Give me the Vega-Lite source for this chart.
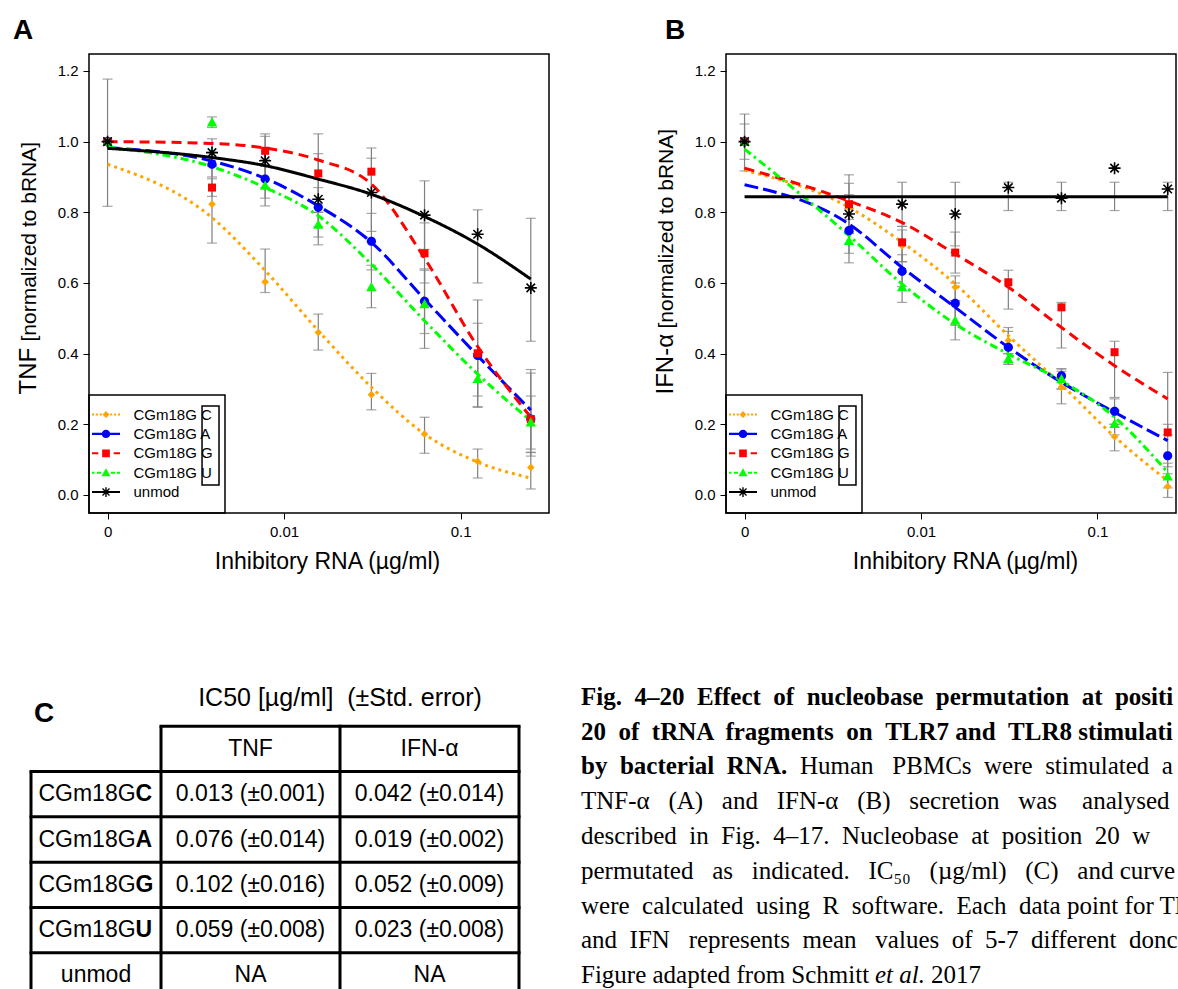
{
  "$schema": "https://vega.github.io/schema/vega-lite/v6.json",
  "padding": {"left": 12, "top": 16, "right": 0, "bottom": 0},
  "background": "white",
  "config": {
    "font": "Liberation Sans",
    "view": {"stroke": "black", "strokeWidth": 1.5},
    "axis": {"labelFont": "Liberation Sans", "titleFont": "Liberation Sans", "labelColor": "black", "titleColor": "black", "tickColor": "black", "tickWidth": 1, "grid": false, "domain": false, "titleFontWeight": "normal", "labelFontSize": 15},
    "legend": {"orient": "bottom-left", "offset": 0, "padding": 12, "strokeColor": "black", "symbolSize": 49, "symbolOffset": -2.5, "labelOffset": 20, "rowPadding": 3.4, "labelFontSize": 15, "labelFont": "Liberation Sans", "labelColor": "black", "symbolOpacity": 1},
    "title": {"font": "Liberation Sans", "color": "black"}
  },
  "datasets": {
    "pointsA": [
      {"series": "unmod", "conc": 0, "val": 1.0, "lo": 0.817, "hi": 1.177},
      {"series": "unmod", "conc": 0.00390625, "val": 0.969, "lo": 0.93, "hi": 1.008},
      {"series": "unmod", "conc": 0.0078125, "val": 0.946, "lo": 0.87, "hi": 1.022},
      {"series": "unmod", "conc": 0.015625, "val": 0.837, "lo": 0.708, "hi": 0.966},
      {"series": "unmod", "conc": 0.03125, "val": 0.856, "lo": 0.746, "hi": 0.953},
      {"series": "unmod", "conc": 0.0625, "val": 0.792, "lo": 0.695, "hi": 0.889},
      {"series": "unmod", "conc": 0.125, "val": 0.738, "lo": 0.6, "hi": 0.807},
      {"series": "unmod", "conc": 0.25, "val": 0.586, "lo": 0.435, "hi": 0.783},
      {"series": "CGm18GC", "conc": 0, "val": 1.0, "lo": null, "hi": null},
      {"series": "CGm18GC", "conc": 0.00390625, "val": 0.823, "lo": 0.713, "hi": 0.933},
      {"series": "CGm18GC", "conc": 0.0078125, "val": 0.603, "lo": 0.573, "hi": 0.696},
      {"series": "CGm18GC", "conc": 0.015625, "val": 0.46, "lo": 0.41, "hi": 0.512},
      {"series": "CGm18GC", "conc": 0.03125, "val": 0.284, "lo": 0.241, "hi": 0.344},
      {"series": "CGm18GC", "conc": 0.0625, "val": 0.1725, "lo": 0.118, "hi": 0.22},
      {"series": "CGm18GC", "conc": 0.125, "val": 0.095, "lo": 0.048, "hi": 0.13},
      {"series": "CGm18GC", "conc": 0.25, "val": 0.078, "lo": 0.017, "hi": 0.121},
      {"series": "CGm18GA", "conc": 0, "val": 1.0, "lo": null, "hi": null},
      {"series": "CGm18GA", "conc": 0.00390625, "val": 0.936, "lo": 0.9, "hi": 0.97},
      {"series": "CGm18GA", "conc": 0.0078125, "val": 0.894, "lo": 0.84, "hi": 0.95},
      {"series": "CGm18GA", "conc": 0.015625, "val": 0.814, "lo": 0.76, "hi": 0.87},
      {"series": "CGm18GA", "conc": 0.03125, "val": 0.718, "lo": 0.637, "hi": 0.797},
      {"series": "CGm18GA", "conc": 0.0625, "val": 0.548, "lo": 0.457, "hi": 0.636},
      {"series": "CGm18GA", "conc": 0.125, "val": 0.395, "lo": 0.28, "hi": 0.486},
      {"series": "CGm18GA", "conc": 0.25, "val": 0.215, "lo": 0.13, "hi": 0.345},
      {"series": "CGm18GG", "conc": 0, "val": 1.0, "lo": null, "hi": null},
      {"series": "CGm18GG", "conc": 0.00390625, "val": 0.87, "lo": 0.845, "hi": 0.895},
      {"series": "CGm18GG", "conc": 0.0078125, "val": 0.974, "lo": 0.934, "hi": 1.015},
      {"series": "CGm18GG", "conc": 0.015625, "val": 0.91, "lo": 0.8, "hi": 1.022},
      {"series": "CGm18GG", "conc": 0.03125, "val": 0.915, "lo": 0.85, "hi": 0.982},
      {"series": "CGm18GG", "conc": 0.0625, "val": 0.684, "lo": 0.6, "hi": 0.77},
      {"series": "CGm18GG", "conc": 0.125, "val": 0.401, "lo": 0.25, "hi": 0.552},
      {"series": "CGm18GG", "conc": 0.25, "val": 0.215, "lo": 0.12, "hi": 0.355},
      {"series": "CGm18GU", "conc": 0, "val": 1.0, "lo": null, "hi": null},
      {"series": "CGm18GU", "conc": 0.00390625, "val": 1.054, "lo": 1.04, "hi": 1.07},
      {"series": "CGm18GU", "conc": 0.0078125, "val": 0.875, "lo": 0.818, "hi": 0.93},
      {"series": "CGm18GU", "conc": 0.015625, "val": 0.765, "lo": 0.73, "hi": 0.8},
      {"series": "CGm18GU", "conc": 0.03125, "val": 0.588, "lo": 0.53, "hi": 0.65},
      {"series": "CGm18GU", "conc": 0.0625, "val": 0.54, "lo": 0.415, "hi": 0.64},
      {"series": "CGm18GU", "conc": 0.125, "val": 0.328, "lo": 0.248, "hi": 0.4},
      {"series": "CGm18GU", "conc": 0.25, "val": 0.205, "lo": 0.11, "hi": 0.28}
    ],
    "curvesA": [
      {"series": "CGm18GC", "conc": 0, "fit": 0.936},
      {"series": "CGm18GC", "conc": 0.00390625, "fit": 0.785},
      {"series": "CGm18GC", "conc": 0.0078125, "fit": 0.635},
      {"series": "CGm18GC", "conc": 0.015625, "fit": 0.465},
      {"series": "CGm18GC", "conc": 0.03125, "fit": 0.305},
      {"series": "CGm18GC", "conc": 0.0625, "fit": 0.1725},
      {"series": "CGm18GC", "conc": 0.125, "fit": 0.093},
      {"series": "CGm18GC", "conc": 0.25, "fit": 0.048},
      {"series": "CGm18GA", "conc": 0, "fit": 0.983},
      {"series": "CGm18GA", "conc": 0.00390625, "fit": 0.945},
      {"series": "CGm18GA", "conc": 0.0078125, "fit": 0.896},
      {"series": "CGm18GA", "conc": 0.015625, "fit": 0.818},
      {"series": "CGm18GA", "conc": 0.03125, "fit": 0.715},
      {"series": "CGm18GA", "conc": 0.0625, "fit": 0.554},
      {"series": "CGm18GA", "conc": 0.125, "fit": 0.394},
      {"series": "CGm18GA", "conc": 0.25, "fit": 0.24},
      {"series": "CGm18GG", "conc": 0, "fit": 1.0},
      {"series": "CGm18GG", "conc": 0.00390625, "fit": 0.995},
      {"series": "CGm18GG", "conc": 0.0078125, "fit": 0.982},
      {"series": "CGm18GG", "conc": 0.015625, "fit": 0.948},
      {"series": "CGm18GG", "conc": 0.03125, "fit": 0.88},
      {"series": "CGm18GG", "conc": 0.0625, "fit": 0.67},
      {"series": "CGm18GG", "conc": 0.125, "fit": 0.42},
      {"series": "CGm18GG", "conc": 0.25, "fit": 0.22},
      {"series": "CGm18GU", "conc": 0, "fit": 0.985},
      {"series": "CGm18GU", "conc": 0.00390625, "fit": 0.929},
      {"series": "CGm18GU", "conc": 0.0078125, "fit": 0.87},
      {"series": "CGm18GU", "conc": 0.015625, "fit": 0.79},
      {"series": "CGm18GU", "conc": 0.03125, "fit": 0.653},
      {"series": "CGm18GU", "conc": 0.0625, "fit": 0.493},
      {"series": "CGm18GU", "conc": 0.125, "fit": 0.342},
      {"series": "CGm18GU", "conc": 0.25, "fit": 0.21},
      {"series": "unmod", "conc": 0, "fit": 0.981},
      {"series": "unmod", "conc": 0.00390625, "fit": 0.955},
      {"series": "unmod", "conc": 0.0078125, "fit": 0.932},
      {"series": "unmod", "conc": 0.015625, "fit": 0.894},
      {"series": "unmod", "conc": 0.03125, "fit": 0.851},
      {"series": "unmod", "conc": 0.0625, "fit": 0.788},
      {"series": "unmod", "conc": 0.125, "fit": 0.71},
      {"series": "unmod", "conc": 0.25, "fit": 0.611}
    ],
    "pointsB": [
      {"series": "unmod", "conc": 0, "val": 1.0, "lo": 0.917, "hi": 1.078},
      {"series": "unmod", "conc": 0.00390625, "val": 0.795, "lo": 0.745, "hi": 0.85},
      {"series": "unmod", "conc": 0.0078125, "val": 0.823, "lo": 0.76, "hi": 0.885},
      {"series": "unmod", "conc": 0.015625, "val": 0.795, "lo": 0.705, "hi": 0.885},
      {"series": "unmod", "conc": 0.03125, "val": 0.87, "lo": 0.805, "hi": 0.885},
      {"series": "unmod", "conc": 0.0625, "val": 0.84, "lo": 0.805, "hi": 0.885},
      {"series": "unmod", "conc": 0.125, "val": 0.925, "lo": 0.805, "hi": 0.885},
      {"series": "unmod", "conc": 0.25, "val": 0.866, "lo": 0.805, "hi": 0.885},
      {"series": "CGm18GC", "conc": 0, "val": 1.0, "lo": 0.95, "hi": 1.05},
      {"series": "CGm18GC", "conc": 0.00390625, "val": 0.812, "lo": 0.742, "hi": 0.882},
      {"series": "CGm18GC", "conc": 0.0078125, "val": 0.705, "lo": 0.66, "hi": 0.75},
      {"series": "CGm18GC", "conc": 0.015625, "val": 0.588, "lo": 0.55, "hi": 0.62},
      {"series": "CGm18GC", "conc": 0.03125, "val": 0.437, "lo": 0.4, "hi": 0.474},
      {"series": "CGm18GC", "conc": 0.0625, "val": 0.305, "lo": 0.258, "hi": 0.35},
      {"series": "CGm18GC", "conc": 0.125, "val": 0.165, "lo": 0.125, "hi": 0.2},
      {"series": "CGm18GC", "conc": 0.25, "val": 0.024, "lo": -0.007, "hi": 0.06},
      {"series": "CGm18GA", "conc": 0, "val": 1.0, "lo": null, "hi": null},
      {"series": "CGm18GA", "conc": 0.00390625, "val": 0.748, "lo": 0.684, "hi": 0.81},
      {"series": "CGm18GA", "conc": 0.0078125, "val": 0.633, "lo": 0.59, "hi": 0.68},
      {"series": "CGm18GA", "conc": 0.015625, "val": 0.542, "lo": 0.48, "hi": 0.6},
      {"series": "CGm18GA", "conc": 0.03125, "val": 0.418, "lo": 0.37, "hi": 0.463},
      {"series": "CGm18GA", "conc": 0.0625, "val": 0.337, "lo": 0.3, "hi": 0.357},
      {"series": "CGm18GA", "conc": 0.125, "val": 0.237, "lo": 0.2, "hi": 0.272},
      {"series": "CGm18GA", "conc": 0.25, "val": 0.111, "lo": 0.08, "hi": 0.2},
      {"series": "CGm18GG", "conc": 0, "val": 1.0, "lo": null, "hi": null},
      {"series": "CGm18GG", "conc": 0.00390625, "val": 0.823, "lo": 0.74, "hi": 0.906},
      {"series": "CGm18GG", "conc": 0.0078125, "val": 0.715, "lo": 0.66, "hi": 0.76},
      {"series": "CGm18GG", "conc": 0.015625, "val": 0.686, "lo": 0.628, "hi": 0.744},
      {"series": "CGm18GG", "conc": 0.03125, "val": 0.602, "lo": 0.526, "hi": 0.636},
      {"series": "CGm18GG", "conc": 0.0625, "val": 0.531, "lo": 0.416, "hi": 0.545},
      {"series": "CGm18GG", "conc": 0.125, "val": 0.404, "lo": 0.276, "hi": 0.435},
      {"series": "CGm18GG", "conc": 0.25, "val": 0.177, "lo": 0.17, "hi": 0.347},
      {"series": "CGm18GU", "conc": 0, "val": 1.0, "lo": null, "hi": null},
      {"series": "CGm18GU", "conc": 0.00390625, "val": 0.719, "lo": 0.657, "hi": 0.78},
      {"series": "CGm18GU", "conc": 0.0078125, "val": 0.588, "lo": 0.545, "hi": 0.63},
      {"series": "CGm18GU", "conc": 0.015625, "val": 0.493, "lo": 0.439, "hi": 0.55},
      {"series": "CGm18GU", "conc": 0.03125, "val": 0.385, "lo": 0.37, "hi": 0.4},
      {"series": "CGm18GU", "conc": 0.0625, "val": 0.328, "lo": 0.3, "hi": 0.357},
      {"series": "CGm18GU", "conc": 0.125, "val": 0.201, "lo": 0.17, "hi": 0.24},
      {"series": "CGm18GU", "conc": 0.25, "val": 0.052, "lo": 0.02, "hi": 0.09}
    ],
    "curvesB": [
      {"series": "CGm18GC", "conc": 0, "fit": 0.919},
      {"series": "CGm18GC", "conc": 0.00390625, "fit": 0.814},
      {"series": "CGm18GC", "conc": 0.0078125, "fit": 0.715},
      {"series": "CGm18GC", "conc": 0.015625, "fit": 0.597},
      {"series": "CGm18GC", "conc": 0.03125, "fit": 0.451},
      {"series": "CGm18GC", "conc": 0.0625, "fit": 0.312},
      {"series": "CGm18GC", "conc": 0.125, "fit": 0.165},
      {"series": "CGm18GC", "conc": 0.25, "fit": 0.04},
      {"series": "CGm18GA", "conc": 0, "fit": 0.878},
      {"series": "CGm18GA", "conc": 0.00390625, "fit": 0.767},
      {"series": "CGm18GA", "conc": 0.0078125, "fit": 0.644},
      {"series": "CGm18GA", "conc": 0.015625, "fit": 0.531},
      {"series": "CGm18GA", "conc": 0.03125, "fit": 0.418},
      {"series": "CGm18GA", "conc": 0.0625, "fit": 0.319},
      {"series": "CGm18GA", "conc": 0.125, "fit": 0.234},
      {"series": "CGm18GA", "conc": 0.25, "fit": 0.154},
      {"series": "CGm18GG", "conc": 0, "fit": 0.925},
      {"series": "CGm18GG", "conc": 0.00390625, "fit": 0.832},
      {"series": "CGm18GG", "conc": 0.0078125, "fit": 0.771},
      {"series": "CGm18GG", "conc": 0.015625, "fit": 0.682},
      {"series": "CGm18GG", "conc": 0.03125, "fit": 0.588},
      {"series": "CGm18GG", "conc": 0.0625, "fit": 0.474},
      {"series": "CGm18GG", "conc": 0.125, "fit": 0.366},
      {"series": "CGm18GG", "conc": 0.25, "fit": 0.272},
      {"series": "CGm18GU", "conc": 0, "fit": 0.979},
      {"series": "CGm18GU", "conc": 0.00390625, "fit": 0.734},
      {"series": "CGm18GU", "conc": 0.0078125, "fit": 0.597},
      {"series": "CGm18GU", "conc": 0.015625, "fit": 0.484},
      {"series": "CGm18GU", "conc": 0.03125, "fit": 0.399},
      {"series": "CGm18GU", "conc": 0.0625, "fit": 0.323},
      {"series": "CGm18GU", "conc": 0.125, "fit": 0.22},
      {"series": "CGm18GU", "conc": 0.25, "fit": 0.064},
      {"series": "unmod", "conc": 0, "fit": 0.844},
      {"series": "unmod", "conc": 0.00390625, "fit": 0.844},
      {"series": "unmod", "conc": 0.0078125, "fit": 0.844},
      {"series": "unmod", "conc": 0.015625, "fit": 0.844},
      {"series": "unmod", "conc": 0.03125, "fit": 0.844},
      {"series": "unmod", "conc": 0.0625, "fit": 0.844},
      {"series": "unmod", "conc": 0.125, "fit": 0.844},
      {"series": "unmod", "conc": 0.25, "fit": 0.844}
    ],
    "ic50": [
      {"variant": "CGm18GC", "prefix": "CGm18G", "base": "C", "TNF": "0.013 (±0.001)", "IFN": "0.042 (±0.014)"},
      {"variant": "CGm18GA", "prefix": "CGm18G", "base": "A", "TNF": "0.076 (±0.014)", "IFN": "0.019 (±0.002)"},
      {"variant": "CGm18GG", "prefix": "CGm18G", "base": "G", "TNF": "0.102 (±0.016)", "IFN": "0.052 (±0.009)"},
      {"variant": "CGm18GU", "prefix": "CGm18G", "base": "U", "TNF": "0.059 (±0.008)", "IFN": "0.023 (±0.008)"},
      {"variant": "unmod", "prefix": "unmod", "base": "", "TNF": "NA", "IFN": "NA"}
    ],
    "headers": [
      {"measure": "TNF", "label": "TNF"},
      {"measure": "IFN", "label": "IFN-α"}
    ],
    "caption": [
      {"line": 1, "seg": 1, "text": "Fig. \u00a04–20 \u00a0Effect \u00a0of \u00a0nucleobase \u00a0permutation \u00a0at \u00a0positi"},
      {"line": 2, "seg": 1, "text": "20 \u00a0of \u00a0tRNA \u00a0fragments \u00a0on \u00a0TLR7 and \u00a0TLR8 stimulati"},
      {"line": 3, "seg": 1, "text": "by \u00a0bacterial \u00a0RNA."},
      {"line": 3, "seg": 2, "text": "Human \u00a0\u00a0PBMCs \u00a0were \u00a0stimulated \u00a0a"},
      {"line": 4, "seg": 1, "text": "TNF-α \u00a0\u00a0(A) \u00a0\u00a0and \u00a0\u00a0IFN-α \u00a0\u00a0(B) \u00a0\u00a0secretion \u00a0\u00a0was \u00a0\u00a0\u00a0analysed"},
      {"line": 5, "seg": 1, "text": "described \u00a0in \u00a0Fig. \u00a04–17. \u00a0Nucleobase \u00a0at \u00a0position \u00a020 \u00a0w"},
      {"line": 6, "seg": 1, "text": "permutated \u00a0\u00a0as \u00a0\u00a0indicated. \u00a0\u00a0IC₅₀ \u00a0\u00a0(µg/ml) \u00a0\u00a0(C) \u00a0\u00a0and curve"},
      {"line": 7, "seg": 1, "text": "were \u00a0calculated \u00a0using \u00a0R \u00a0software. \u00a0Each \u00a0data point for TN"},
      {"line": 8, "seg": 1, "text": "and \u00a0IFN \u00a0\u00a0represents \u00a0mean \u00a0\u00a0values \u00a0of \u00a05-7 \u00a0different \u00a0donc"},
      {"line": 9, "seg": 1, "text": "Figure adapted from Schmitt"},
      {"line": 9, "seg": 2, "text": "et al."},
      {"line": 9, "seg": 3, "text": "2017"}
    ]
  },
  "columns": 1,
  "spacing": 107,
  "concat": [
    {
      "spacing": 102,
      "resolve": {"scale": {"color": "independent", "stroke": "independent", "shape": "independent", "strokeDash": "independent"}, "legend": {"color": "independent", "stroke": "independent", "shape": "independent", "strokeDash": "independent"}},
      "hconcat": [
        {
          "width": 460,
          "height": 459,
          "title": {"text": "A", "anchor": "start", "frame": "group", "dx": -76, "offset": -13, "fontSize": 28, "fontWeight": "bold", "baseline": "alphabetic"},
          "resolve": {"axis": {"y": "independent"}},
          "layer": [
            {
              "data": {"name": "pointsA"},
              "transform": [{"filter": "isValid(datum.lo)"}, {"calculate": "datum.conc === 0 ? 0.001 : datum.conc", "as": "xpos"}],
              "mark": {"type": "errorbar", "ticks": true, "size": 10, "thickness": 1.2, "color": "#808080"},
              "encoding": {
                "x": {"field": "xpos", "type": "quantitative", "scale": {"type": "log", "domain": [0.000785, 0.317], "nice": false}},
                "y": {"field": "lo", "type": "quantitative", "scale": {"domain": [-0.051, 1.248], "nice": false, "zero": false}, "axis": null},
                "y2": {"field": "hi"}
              }
            },
            {
              "data": {"name": "curvesA"},
              "transform": [{"calculate": "datum.conc === 0 ? 0.001 : datum.conc", "as": "xpos"}],
              "mark": {"type": "line", "strokeWidth": 3, "interpolate": "monotone"},
              "encoding": {
                "x": {"field": "xpos", "type": "quantitative", "scale": {"type": "log", "domain": [0.000785, 0.317], "nice": false},
                  "axis": {"values": [0.001, 0.01, 0.1], "labelExpr": "datum.value < 0.005 ? '0' : (datum.value < 0.05 ? '0.01' : '0.1')", "labelFontSize": 15, "labelPadding": 5, "tickSize": 6, "labelFlush": false, "title": "Inhibitory RNA (µg/ml)", "titleFontSize": 23, "titlePadding": 11, "titleX": 238}},
                "y": {"field": "fit", "type": "quantitative", "scale": {"domain": [-0.051, 1.248], "nice": false, "zero": false},
                  "axis": {"orient": "left", "values": [0, 0.2, 0.4, 0.6, 0.8, 1, 1.2], "format": ".1f", "labelFontSize": 15, "labelPadding": 5, "tickSize": 6, "title": "TNF", "titleFontSize": 24, "titleAngle": -90, "titleAlign": "left", "titleBaseline": "alphabetic", "titleX": -54, "titleY": 340}},
                "stroke": {"field": "series", "type": "nominal", "scale": {"domain": ["unmod", "CGm18GU", "CGm18GG", "CGm18GA", "CGm18GC"], "range": ["#000000", "#00FF00", "#FF0000", "#0000FF", "#FFA500"]}, "legend": null},
                "strokeDash": {"field": "series", "type": "nominal", "scale": {"domain": ["unmod", "CGm18GU", "CGm18GG", "CGm18GA", "CGm18GC"], "range": [[1, 0], [8, 4, 2.5, 4], [10, 6], [14, 5], [3, 4]]}, "legend": null}
              }
            },
            {
              "data": {"name": "pointsA"},
              "transform": [{"filter": "datum.series === 'CGm18GC'"}, {"calculate": "datum.conc === 0 ? 0.001 : datum.conc", "as": "xpos"}],
              "mark": {"type": "point", "filled": true, "opacity": 1, "size": 64, "strokeWidth": 0, "color": "#FFA500", "shape": "M0,-0.95L0.95,0L0,0.95L-0.95,0Z"},
              "encoding": {
                "x": {"field": "xpos", "type": "quantitative", "scale": {"type": "log", "domain": [0.000785, 0.317], "nice": false}},
                "y": {"field": "val", "type": "quantitative", "scale": {"domain": [-0.051, 1.248], "nice": false, "zero": false}, "axis": null}
              }
            },
            {
              "data": {"name": "pointsA"},
              "transform": [{"filter": "datum.series === 'CGm18GA'"}, {"calculate": "datum.conc === 0 ? 0.001 : datum.conc", "as": "xpos"}],
              "mark": {"type": "point", "filled": true, "opacity": 1, "size": 64, "strokeWidth": 0, "color": "#0000FF", "shape": "M-1.15,0A1.15,1.15,0,1,1,1.15,0A1.15,1.15,0,1,1,-1.15,0Z"},
              "encoding": {
                "x": {"field": "xpos", "type": "quantitative", "scale": {"type": "log", "domain": [0.000785, 0.317], "nice": false}},
                "y": {"field": "val", "type": "quantitative", "scale": {"domain": [-0.051, 1.248], "nice": false, "zero": false}, "axis": null}
              }
            },
            {
              "data": {"name": "pointsA"},
              "transform": [{"filter": "datum.series === 'CGm18GG'"}, {"calculate": "datum.conc === 0 ? 0.001 : datum.conc", "as": "xpos"}],
              "mark": {"type": "point", "filled": true, "opacity": 1, "size": 64, "strokeWidth": 0, "color": "#FF0000", "shape": "M-1,-1L1,-1L1,1L-1,1Z"},
              "encoding": {
                "x": {"field": "xpos", "type": "quantitative", "scale": {"type": "log", "domain": [0.000785, 0.317], "nice": false}},
                "y": {"field": "val", "type": "quantitative", "scale": {"domain": [-0.051, 1.248], "nice": false, "zero": false}, "axis": null}
              }
            },
            {
              "data": {"name": "pointsA"},
              "transform": [{"filter": "datum.series === 'CGm18GU'"}, {"calculate": "datum.conc === 0 ? 0.001 : datum.conc", "as": "xpos"}],
              "mark": {"type": "point", "filled": true, "opacity": 1, "size": 64, "strokeWidth": 0, "color": "#00FF00", "shape": "M0,-1.3L1.3,1L-1.3,1Z"},
              "encoding": {
                "x": {"field": "xpos", "type": "quantitative", "scale": {"type": "log", "domain": [0.000785, 0.317], "nice": false}},
                "y": {"field": "val", "type": "quantitative", "scale": {"domain": [-0.051, 1.248], "nice": false, "zero": false}, "axis": null}
              }
            },
            {
              "data": {"name": "pointsA"},
              "transform": [{"filter": "datum.series === 'unmod'"}, {"calculate": "datum.conc === 0 ? 0.001 : datum.conc", "as": "xpos"}],
              "mark": {"type": "point", "filled": false, "opacity": 1, "size": 64, "strokeWidth": 1.6, "color": "#000000", "shape": "M-1.5,0L1.5,0M0,-1.5L0,1.5M-1.06,-1.06L1.06,1.06M-1.06,1.06L1.06,-1.06"},
              "encoding": {
                "x": {"field": "xpos", "type": "quantitative", "scale": {"type": "log", "domain": [0.000785, 0.317], "nice": false}},
                "y": {"field": "val", "type": "quantitative", "scale": {"domain": [-0.051, 1.248], "nice": false, "zero": false}, "axis": null}
              }
            },
            {
              "data": {"values": [{"note": "varied nucleobase"}]},
              "mark": {"type": "rect", "fill": "transparent", "stroke": "black", "strokeWidth": 1.5},
              "encoding": {
                "x": {"datum": 0.00343, "type": "quantitative", "scale": {"type": "log", "domain": [0.000785, 0.317], "nice": false}},
                "x2": {"datum": 0.00428},
                "y": {"datum": 0.252, "type": "quantitative", "scale": {"domain": [-0.051, 1.248], "nice": false, "zero": false},
                  "axis": {"orient": "left", "labels": false, "ticks": false, "domain": false, "title": "[normalized to bRNA]", "titleFontSize": 21, "titleAngle": -90, "titleAlign": "left", "titleBaseline": "alphabetic", "titleX": -54, "titleY": 287}},
                "y2": {"datum": 0.028}
              }
            },
            {
              "data": {"name": "pointsA"},
              "transform": [{"filter": "false"}, {"calculate": "datum.conc === 0 ? 0.001 : datum.conc", "as": "xpos"}],
              "mark": {"type": "point", "filled": true, "opacity": 1, "strokeWidth": 0},
              "encoding": {
                "x": {"field": "xpos", "type": "quantitative", "scale": {"type": "log", "domain": [0.000785, 0.317], "nice": false}},
                "y": {"field": "val", "type": "quantitative", "scale": {"domain": [-0.051, 1.248], "nice": false, "zero": false}, "axis": null},
                "color": {"field": "series", "type": "nominal", "scale": {"domain": ["CGm18GC", "CGm18GA", "CGm18GG", "CGm18GU", "unmod"], "range": ["#FFA500", "#0000FF", "#FF0000", "#00FF00", "#000000"]},
                  "legend": {"title": null, "labelExpr": "datum.label === 'unmod' ? 'unmod' : slice(datum.label, 0, 6) + ' ' + slice(datum.label, 6)",
                    "encoding": {"symbols": {"strokeWidth": {"value": 0}, "opacity": {"value": 1}}, "legend": {"strokeWidth": {"value": 1.5}}}}},
                "shape": {"field": "series", "type": "nominal", "scale": {"domain": ["CGm18GC", "CGm18GA", "CGm18GG", "CGm18GU", "unmod"], "range": [
                  "M-4,-0.28L-3.4,-0.28L-3.4,0.28L-4,0.28Z M-2.9,-0.28L-2.3,-0.28L-2.3,0.28L-2.9,0.28Z M-1.8,-0.28L-1.2,-0.28L-1.2,0.28L-1.8,0.28Z M1.2,-0.28L1.8,-0.28L1.8,0.28L1.2,0.28Z M2.3,-0.28L2.9,-0.28L2.9,0.28L2.3,0.28Z M3.4,-0.28L4,-0.28L4,0.28L3.4,0.28Z M0,-1L1,0L0,1L-1,0Z",
                  "M-4,-0.3L4,-0.3L4,0.3L-4,0.3Z M-1.2,0A1.2,1.2,0,1,1,1.2,0A1.2,1.2,0,1,1,-1.2,0Z",
                  "M-4,-0.3L-2.2,-0.3L-2.2,0.3L-4,0.3Z M2.2,-0.3L4,-0.3L4,0.3L2.2,0.3Z M-1.1,-1.1L1.1,-1.1L1.1,1.1L-1.1,1.1Z",
                  "M-4,-0.28L-3.3,-0.28L-3.3,0.28L-4,0.28Z M-2.6,-0.28L-1.4,-0.28L-1.4,0.28L-2.6,0.28Z M1.4,-0.28L2.6,-0.28L2.6,0.28L1.4,0.28Z M3.1,-0.28L4,-0.28L4,0.28L3.1,0.28Z M0,-1.3L1.3,1L-1.3,1Z",
                  "M-4,-0.28L4,-0.28L4,0.28L-4,0.28Z M-0.2,-1.4L0.2,-1.4L0.2,1.4L-0.2,1.4Z M-1.14,-0.86L-0.86,-1.14L1.14,0.86L0.86,1.14Z M-1.14,0.86L0.86,-1.14L1.14,-0.86L-0.86,1.14Z"]}}
              }
            }
          ]
        },
        {
          "width": 450,
          "height": 459,
          "title": {"text": "B", "anchor": "start", "frame": "group", "dx": -61, "offset": -13, "fontSize": 28, "fontWeight": "bold", "baseline": "alphabetic"},
          "resolve": {"axis": {"y": "independent"}},
          "layer": [
            {
              "data": {"name": "pointsB"},
              "transform": [{"filter": "isValid(datum.lo)"}, {"calculate": "datum.conc === 0 ? 0.001 : datum.conc", "as": "xpos"}],
              "mark": {"type": "errorbar", "ticks": true, "size": 10, "thickness": 1.2, "color": "#808080"},
              "encoding": {
                "x": {"field": "xpos", "type": "quantitative", "scale": {"type": "log", "domain": [0.000785, 0.2786], "nice": false}},
                "y": {"field": "lo", "type": "quantitative", "scale": {"domain": [-0.051, 1.248], "nice": false, "zero": false}, "axis": null},
                "y2": {"field": "hi"}
              }
            },
            {
              "data": {"name": "curvesB"},
              "transform": [{"calculate": "datum.conc === 0 ? 0.001 : datum.conc", "as": "xpos"}],
              "mark": {"type": "line", "strokeWidth": 3, "interpolate": "monotone"},
              "encoding": {
                "x": {"field": "xpos", "type": "quantitative", "scale": {"type": "log", "domain": [0.000785, 0.2786], "nice": false},
                  "axis": {"values": [0.001, 0.01, 0.1], "labelExpr": "datum.value < 0.005 ? '0' : (datum.value < 0.05 ? '0.01' : '0.1')", "labelFontSize": 15, "labelPadding": 5, "tickSize": 6, "labelFlush": false, "title": "Inhibitory RNA (µg/ml)", "titleFontSize": 23, "titlePadding": 11, "titleX": 239}},
                "y": {"field": "fit", "type": "quantitative", "scale": {"domain": [-0.051, 1.248], "nice": false, "zero": false},
                  "axis": {"orient": "left", "values": [0, 0.2, 0.4, 0.6, 0.8, 1, 1.2], "format": ".1f", "labelFontSize": 15, "labelPadding": 5, "tickSize": 6, "title": "IFN-α", "titleFontSize": 24, "titleAngle": -90, "titleAlign": "left", "titleBaseline": "alphabetic", "titleX": -54, "titleY": 340}},
                "stroke": {"field": "series", "type": "nominal", "scale": {"domain": ["unmod", "CGm18GU", "CGm18GG", "CGm18GA", "CGm18GC"], "range": ["#000000", "#00FF00", "#FF0000", "#0000FF", "#FFA500"]}, "legend": null},
                "strokeDash": {"field": "series", "type": "nominal", "scale": {"domain": ["unmod", "CGm18GU", "CGm18GG", "CGm18GA", "CGm18GC"], "range": [[1, 0], [8, 4, 2.5, 4], [10, 6], [14, 5], [3, 4]]}, "legend": null}
              }
            },
            {
              "data": {"name": "pointsB"},
              "transform": [{"filter": "datum.series === 'CGm18GC'"}, {"calculate": "datum.conc === 0 ? 0.001 : datum.conc", "as": "xpos"}],
              "mark": {"type": "point", "filled": true, "opacity": 1, "size": 64, "strokeWidth": 0, "color": "#FFA500", "shape": "M0,-0.95L0.95,0L0,0.95L-0.95,0Z"},
              "encoding": {
                "x": {"field": "xpos", "type": "quantitative", "scale": {"type": "log", "domain": [0.000785, 0.2786], "nice": false}},
                "y": {"field": "val", "type": "quantitative", "scale": {"domain": [-0.051, 1.248], "nice": false, "zero": false}, "axis": null}
              }
            },
            {
              "data": {"name": "pointsB"},
              "transform": [{"filter": "datum.series === 'CGm18GA'"}, {"calculate": "datum.conc === 0 ? 0.001 : datum.conc", "as": "xpos"}],
              "mark": {"type": "point", "filled": true, "opacity": 1, "size": 64, "strokeWidth": 0, "color": "#0000FF", "shape": "M-1.15,0A1.15,1.15,0,1,1,1.15,0A1.15,1.15,0,1,1,-1.15,0Z"},
              "encoding": {
                "x": {"field": "xpos", "type": "quantitative", "scale": {"type": "log", "domain": [0.000785, 0.2786], "nice": false}},
                "y": {"field": "val", "type": "quantitative", "scale": {"domain": [-0.051, 1.248], "nice": false, "zero": false}, "axis": null}
              }
            },
            {
              "data": {"name": "pointsB"},
              "transform": [{"filter": "datum.series === 'CGm18GG'"}, {"calculate": "datum.conc === 0 ? 0.001 : datum.conc", "as": "xpos"}],
              "mark": {"type": "point", "filled": true, "opacity": 1, "size": 64, "strokeWidth": 0, "color": "#FF0000", "shape": "M-1,-1L1,-1L1,1L-1,1Z"},
              "encoding": {
                "x": {"field": "xpos", "type": "quantitative", "scale": {"type": "log", "domain": [0.000785, 0.2786], "nice": false}},
                "y": {"field": "val", "type": "quantitative", "scale": {"domain": [-0.051, 1.248], "nice": false, "zero": false}, "axis": null}
              }
            },
            {
              "data": {"name": "pointsB"},
              "transform": [{"filter": "datum.series === 'CGm18GU'"}, {"calculate": "datum.conc === 0 ? 0.001 : datum.conc", "as": "xpos"}],
              "mark": {"type": "point", "filled": true, "opacity": 1, "size": 64, "strokeWidth": 0, "color": "#00FF00", "shape": "M0,-1.3L1.3,1L-1.3,1Z"},
              "encoding": {
                "x": {"field": "xpos", "type": "quantitative", "scale": {"type": "log", "domain": [0.000785, 0.2786], "nice": false}},
                "y": {"field": "val", "type": "quantitative", "scale": {"domain": [-0.051, 1.248], "nice": false, "zero": false}, "axis": null}
              }
            },
            {
              "data": {"name": "pointsB"},
              "transform": [{"filter": "datum.series === 'unmod'"}, {"calculate": "datum.conc === 0 ? 0.001 : datum.conc", "as": "xpos"}],
              "mark": {"type": "point", "filled": false, "opacity": 1, "size": 64, "strokeWidth": 1.6, "color": "#000000", "shape": "M-1.5,0L1.5,0M0,-1.5L0,1.5M-1.06,-1.06L1.06,1.06M-1.06,1.06L1.06,-1.06"},
              "encoding": {
                "x": {"field": "xpos", "type": "quantitative", "scale": {"type": "log", "domain": [0.000785, 0.2786], "nice": false}},
                "y": {"field": "val", "type": "quantitative", "scale": {"domain": [-0.051, 1.248], "nice": false, "zero": false}, "axis": null}
              }
            },
            {
              "data": {"values": [{"note": "varied nucleobase"}]},
              "mark": {"type": "rect", "fill": "transparent", "stroke": "black", "strokeWidth": 1.5},
              "encoding": {
                "x": {"datum": 0.00343, "type": "quantitative", "scale": {"type": "log", "domain": [0.000785, 0.2786], "nice": false}},
                "x2": {"datum": 0.00428},
                "y": {"datum": 0.252, "type": "quantitative", "scale": {"domain": [-0.051, 1.248], "nice": false, "zero": false},
                  "axis": {"orient": "left", "labels": false, "ticks": false, "domain": false, "title": "[normalized to bRNA]", "titleFontSize": 21, "titleAngle": -90, "titleAlign": "left", "titleBaseline": "alphabetic", "titleX": -54, "titleY": 274}},
                "y2": {"datum": 0.028}
              }
            },
            {
              "data": {"name": "pointsB"},
              "transform": [{"filter": "false"}, {"calculate": "datum.conc === 0 ? 0.001 : datum.conc", "as": "xpos"}],
              "mark": {"type": "point", "filled": true, "opacity": 1, "strokeWidth": 0},
              "encoding": {
                "x": {"field": "xpos", "type": "quantitative", "scale": {"type": "log", "domain": [0.000785, 0.2786], "nice": false}},
                "y": {"field": "val", "type": "quantitative", "scale": {"domain": [-0.051, 1.248], "nice": false, "zero": false}, "axis": null},
                "color": {"field": "series", "type": "nominal", "scale": {"domain": ["CGm18GC", "CGm18GA", "CGm18GG", "CGm18GU", "unmod"], "range": ["#FFA500", "#0000FF", "#FF0000", "#00FF00", "#000000"]},
                  "legend": {"title": null, "labelExpr": "datum.label === 'unmod' ? 'unmod' : slice(datum.label, 0, 6) + ' ' + slice(datum.label, 6)",
                    "encoding": {"symbols": {"strokeWidth": {"value": 0}, "opacity": {"value": 1}}, "legend": {"strokeWidth": {"value": 1.5}}}}},
                "shape": {"field": "series", "type": "nominal", "scale": {"domain": ["CGm18GC", "CGm18GA", "CGm18GG", "CGm18GU", "unmod"], "range": [
                  "M-4,-0.28L-3.4,-0.28L-3.4,0.28L-4,0.28Z M-2.9,-0.28L-2.3,-0.28L-2.3,0.28L-2.9,0.28Z M-1.8,-0.28L-1.2,-0.28L-1.2,0.28L-1.8,0.28Z M1.2,-0.28L1.8,-0.28L1.8,0.28L1.2,0.28Z M2.3,-0.28L2.9,-0.28L2.9,0.28L2.3,0.28Z M3.4,-0.28L4,-0.28L4,0.28L3.4,0.28Z M0,-1L1,0L0,1L-1,0Z",
                  "M-4,-0.3L4,-0.3L4,0.3L-4,0.3Z M-1.2,0A1.2,1.2,0,1,1,1.2,0A1.2,1.2,0,1,1,-1.2,0Z",
                  "M-4,-0.3L-2.2,-0.3L-2.2,0.3L-4,0.3Z M2.2,-0.3L4,-0.3L4,0.3L2.2,0.3Z M-1.1,-1.1L1.1,-1.1L1.1,1.1L-1.1,1.1Z",
                  "M-4,-0.28L-3.3,-0.28L-3.3,0.28L-4,0.28Z M-2.6,-0.28L-1.4,-0.28L-1.4,0.28L-2.6,0.28Z M1.4,-0.28L2.6,-0.28L2.6,0.28L1.4,0.28Z M3.1,-0.28L4,-0.28L4,0.28L3.1,0.28Z M0,-1.3L1.3,1L-1.3,1Z",
                  "M-4,-0.28L4,-0.28L4,0.28L-4,0.28Z M-0.2,-1.4L0.2,-1.4L0.2,1.4L-0.2,1.4Z M-1.14,-0.86L-0.86,-1.14L1.14,0.86L0.86,1.14Z M-1.14,0.86L0.86,-1.14L1.14,-0.86L-0.86,1.14Z"]}}
              }
            }
          ]
        }
      ]
    },
    {
      "spacing": 59,
      "hconcat": [
        {
          "width": 432,
          "height": 308,
          "view": {"stroke": null},
          "layer": [
            {
              "data": {"name": "ic50"},
              "mark": {"type": "rule", "strokeWidth": 3, "strokeCap": "square", "color": "black"},
              "encoding": {
                "x": {"datum": 0, "type": "quantitative", "scale": {"type": "linear", "domain": [0, 1, 2, 3], "range": [-58, 72, 251, 430], "nice": false, "zero": false}, "axis": null},
                "x2": {"datum": 3},
                "y": {"field": "variant", "type": "nominal", "bandPosition": 0, "scale": {"type": "band", "domain": ["title", "header", "CGm18GC", "CGm18GA", "CGm18GG", "CGm18GU", "unmod"], "range": [0, 317], "paddingInner": 0, "paddingOuter": 0}, "axis": null}
              }
            },
            {
              "data": {"name": "headers"},
              "transform": [{"calculate": "datum.measure === 'TNF' ? 1 : 2", "as": "c0"}, {"calculate": "datum.c0 + 1", "as": "c1"}, {"calculate": "datum.c0 + 0.5", "as": "cm"}],
              "layer": [
                {
                  "mark": {"type": "rule", "strokeWidth": 3, "strokeCap": "square", "color": "black"},
                  "encoding": {
                    "x": {"field": "c0", "type": "quantitative", "scale": {"type": "linear", "domain": [0, 1, 2, 3], "range": [-58, 72, 251, 430], "nice": false, "zero": false}, "axis": null},
                    "x2": {"field": "c1"},
                    "y": {"datum": "header", "type": "nominal", "bandPosition": 0, "scale": {"type": "band", "domain": ["title", "header", "CGm18GC", "CGm18GA", "CGm18GG", "CGm18GU", "unmod"], "range": [0, 317], "paddingInner": 0, "paddingOuter": 0}, "axis": null}
                  }
                },
                {
                  "mark": {"type": "rule", "strokeWidth": 3, "strokeCap": "butt", "color": "black"},
                  "encoding": {
                    "x": {"field": "c0", "type": "quantitative", "scale": {"type": "linear", "domain": [0, 1, 2, 3], "range": [-58, 72, 251, 430], "nice": false, "zero": false}, "axis": null},
                    "y": {"datum": "header", "type": "nominal", "bandPosition": 0, "scale": {"type": "band", "domain": ["title", "header", "CGm18GC", "CGm18GA", "CGm18GG", "CGm18GU", "unmod"], "range": [0, 317], "paddingInner": 0, "paddingOuter": 0}, "axis": null},
                    "y2": {"value": "height"}
                  }
                },
                {
                  "transform": [{"filter": "datum.measure === 'IFN'"}],
                  "mark": {"type": "rule", "strokeWidth": 3, "strokeCap": "butt", "color": "black"},
                  "encoding": {
                    "x": {"field": "c1", "type": "quantitative", "scale": {"type": "linear", "domain": [0, 1, 2, 3], "range": [-58, 72, 251, 430], "nice": false, "zero": false}, "axis": null},
                    "y": {"datum": "header", "type": "nominal", "bandPosition": 0, "scale": {"type": "band", "domain": ["title", "header", "CGm18GC", "CGm18GA", "CGm18GG", "CGm18GU", "unmod"], "range": [0, 317], "paddingInner": 0, "paddingOuter": 0}, "axis": null},
                    "y2": {"value": "height"}
                  }
                },
                {
                  "mark": {"type": "text", "fontSize": 23, "baseline": "middle", "align": "center", "color": "black"},
                  "encoding": {
                    "x": {"field": "cm", "type": "quantitative", "scale": {"type": "linear", "domain": [0, 1, 2, 3], "range": [-58, 72, 251, 430], "nice": false, "zero": false}, "axis": null},
                    "y": {"datum": "header", "type": "nominal", "scale": {"type": "band", "domain": ["title", "header", "CGm18GC", "CGm18GA", "CGm18GG", "CGm18GU", "unmod"], "range": [0, 317], "paddingInner": 0, "paddingOuter": 0}, "axis": null},
                    "text": {"field": "label"}
                  }
                }
              ]
            },
            {
              "data": {"values": [{"edge": "row labels"}]},
              "mark": {"type": "rule", "strokeWidth": 3, "strokeCap": "butt", "color": "black"},
              "encoding": {
                "x": {"datum": 0, "type": "quantitative", "scale": {"type": "linear", "domain": [0, 1, 2, 3], "range": [-58, 72, 251, 430], "nice": false, "zero": false}, "axis": null},
                "y": {"datum": "CGm18GC", "type": "nominal", "bandPosition": 0, "scale": {"type": "band", "domain": ["title", "header", "CGm18GC", "CGm18GA", "CGm18GG", "CGm18GU", "unmod"], "range": [0, 317], "paddingInner": 0, "paddingOuter": 0}, "axis": null},
                "y2": {"value": "height"}
              }
            },
            {
              "data": {"name": "ic50"},
              "transform": [{"fold": ["TNF", "IFN"], "as": ["measure", "value"]}, {"calculate": "datum.measure === 'TNF' ? 1.5 : 2.5", "as": "cm"}],
              "mark": {"type": "text", "fontSize": 23, "baseline": "middle", "align": "center", "color": "black"},
              "encoding": {
                "x": {"field": "cm", "type": "quantitative", "scale": {"type": "linear", "domain": [0, 1, 2, 3], "range": [-58, 72, 251, 430], "nice": false, "zero": false}, "axis": null},
                "y": {"field": "variant", "type": "nominal", "scale": {"type": "band", "domain": ["title", "header", "CGm18GC", "CGm18GA", "CGm18GG", "CGm18GU", "unmod"], "range": [0, 317], "paddingInner": 0, "paddingOuter": 0}, "axis": null},
                "text": {"field": "value"}
              }
            },
            {
              "data": {"name": "ic50"},
              "transform": [{"filter": "datum.base !== ''"}],
              "mark": {"type": "text", "fontSize": 23, "baseline": "middle", "align": "right", "dx": 39.6, "color": "black"},
              "encoding": {
                "x": {"datum": 0.5, "type": "quantitative", "scale": {"type": "linear", "domain": [0, 1, 2, 3], "range": [-58, 72, 251, 430], "nice": false, "zero": false}, "axis": null},
                "y": {"field": "variant", "type": "nominal", "scale": {"type": "band", "domain": ["title", "header", "CGm18GC", "CGm18GA", "CGm18GG", "CGm18GU", "unmod"], "range": [0, 317], "paddingInner": 0, "paddingOuter": 0}, "axis": null},
                "text": {"field": "prefix"}
              }
            },
            {
              "data": {"name": "ic50"},
              "transform": [{"filter": "datum.base !== ''"}],
              "mark": {"type": "text", "fontSize": 23, "fontWeight": "bold", "baseline": "middle", "align": "left", "dx": 39.6, "color": "black"},
              "encoding": {
                "x": {"datum": 0.5, "type": "quantitative", "scale": {"type": "linear", "domain": [0, 1, 2, 3], "range": [-58, 72, 251, 430], "nice": false, "zero": false}, "axis": null},
                "y": {"field": "variant", "type": "nominal", "scale": {"type": "band", "domain": ["title", "header", "CGm18GC", "CGm18GA", "CGm18GG", "CGm18GU", "unmod"], "range": [0, 317], "paddingInner": 0, "paddingOuter": 0}, "axis": null},
                "text": {"field": "base"}
              }
            },
            {
              "data": {"name": "ic50"},
              "transform": [{"filter": "datum.base === ''"}],
              "mark": {"type": "text", "fontSize": 23, "baseline": "middle", "align": "center", "color": "black"},
              "encoding": {
                "x": {"datum": 0.5, "type": "quantitative", "scale": {"type": "linear", "domain": [0, 1, 2, 3], "range": [-58, 72, 251, 430], "nice": false, "zero": false}, "axis": null},
                "y": {"field": "variant", "type": "nominal", "scale": {"type": "band", "domain": ["title", "header", "CGm18GC", "CGm18GA", "CGm18GG", "CGm18GU", "unmod"], "range": [0, 317], "paddingInner": 0, "paddingOuter": 0}, "axis": null},
                "text": {"field": "prefix"}
              }
            },
            {
              "data": {"values": [{"heading": "IC50 [µg/ml]\u00a0 (±Std. error)"}]},
              "mark": {"type": "text", "fontSize": 25, "baseline": "middle", "align": "center", "dy": -6, "color": "black"},
              "encoding": {
                "x": {"datum": 2, "type": "quantitative", "scale": {"type": "linear", "domain": [0, 1, 2, 3], "range": [-58, 72, 251, 430], "nice": false, "zero": false}, "axis": null},
                "y": {"datum": "title", "type": "nominal", "scale": {"type": "band", "domain": ["title", "header", "CGm18GC", "CGm18GA", "CGm18GG", "CGm18GU", "unmod"], "range": [0, 317], "paddingInner": 0, "paddingOuter": 0}, "axis": null},
                "text": {"field": "heading"}
              }
            },
            {
              "data": {"values": [{"panel": "C"}]},
              "mark": {"type": "text", "fontSize": 28, "fontWeight": "bold", "baseline": "alphabetic", "align": "left", "dx": 3, "dy": 18.4, "color": "black"},
              "encoding": {
                "x": {"datum": 0, "type": "quantitative", "scale": {"type": "linear", "domain": [0, 1, 2, 3], "range": [-58, 72, 251, 430], "nice": false, "zero": false}, "axis": null},
                "y": {"datum": "title", "type": "nominal", "scale": {"type": "band", "domain": ["title", "header", "CGm18GC", "CGm18GA", "CGm18GG", "CGm18GU", "unmod"], "range": [0, 317], "paddingInner": 0, "paddingOuter": 0}, "axis": null},
                "text": {"field": "panel"}
              }
            }
          ]
        },
        {
          "width": 599,
          "height": 308,
          "view": {"stroke": null},
          "data": {"name": "caption"},
          "layer": [
            {
              "transform": [{"filter": "datum.line <= 2 || (datum.line === 3 && datum.seg === 1)"}],
              "mark": {"type": "text", "align": "left", "baseline": "middle", "font": "Liberation Serif", "fontSize": 25, "fontWeight": "bold", "color": "black", "clip": true},
              "encoding": {
                "x": {"datum": 0, "type": "quantitative", "scale": {"domain": [0, 1], "nice": false}, "axis": null},
                "y": {"field": "line", "type": "ordinal", "scale": {"type": "band", "domain": [1, 2, 3, 4, 5, 6, 7, 8, 9], "range": [-1.4, 311.4], "paddingInner": 0, "paddingOuter": 0}, "axis": null},
                "text": {"field": "text"}
              }
            },
            {
              "transform": [{"filter": "datum.line >= 4 && datum.seg === 1"}],
              "mark": {"type": "text", "align": "left", "baseline": "middle", "font": "Liberation Serif", "fontSize": 25, "color": "black", "clip": true},
              "encoding": {
                "x": {"datum": 0, "type": "quantitative", "scale": {"domain": [0, 1], "nice": false}, "axis": null},
                "y": {"field": "line", "type": "ordinal", "scale": {"type": "band", "domain": [1, 2, 3, 4, 5, 6, 7, 8, 9], "range": [-1.4, 311.4], "paddingInner": 0, "paddingOuter": 0}, "axis": null},
                "text": {"field": "text"}
              }
            },
            {
              "transform": [{"filter": "datum.line === 3 && datum.seg === 2"}],
              "mark": {"type": "text", "align": "left", "baseline": "middle", "font": "Liberation Serif", "fontSize": 25, "dx": 219, "color": "black", "clip": true},
              "encoding": {
                "x": {"datum": 0, "type": "quantitative", "scale": {"domain": [0, 1], "nice": false}, "axis": null},
                "y": {"field": "line", "type": "ordinal", "scale": {"type": "band", "domain": [1, 2, 3, 4, 5, 6, 7, 8, 9], "range": [-1.4, 311.4], "paddingInner": 0, "paddingOuter": 0}, "axis": null},
                "text": {"field": "text"}
              }
            },
            {
              "transform": [{"filter": "datum.line === 9 && datum.seg === 2"}],
              "mark": {"type": "text", "align": "left", "baseline": "middle", "font": "Liberation Serif", "fontSize": 25, "fontStyle": "italic", "dx": 294, "color": "black", "clip": true},
              "encoding": {
                "x": {"datum": 0, "type": "quantitative", "scale": {"domain": [0, 1], "nice": false}, "axis": null},
                "y": {"field": "line", "type": "ordinal", "scale": {"type": "band", "domain": [1, 2, 3, 4, 5, 6, 7, 8, 9], "range": [-1.4, 311.4], "paddingInner": 0, "paddingOuter": 0}, "axis": null},
                "text": {"field": "text"}
              }
            },
            {
              "transform": [{"filter": "datum.line === 9 && datum.seg === 3"}],
              "mark": {"type": "text", "align": "left", "baseline": "middle", "font": "Liberation Serif", "fontSize": 25, "dx": 350, "color": "black", "clip": true},
              "encoding": {
                "x": {"datum": 0, "type": "quantitative", "scale": {"domain": [0, 1], "nice": false}, "axis": null},
                "y": {"field": "line", "type": "ordinal", "scale": {"type": "band", "domain": [1, 2, 3, 4, 5, 6, 7, 8, 9], "range": [-1.4, 311.4], "paddingInner": 0, "paddingOuter": 0}, "axis": null},
                "text": {"field": "text"}
              }
            }
          ]
        }
      ]
    }
  ]
}
